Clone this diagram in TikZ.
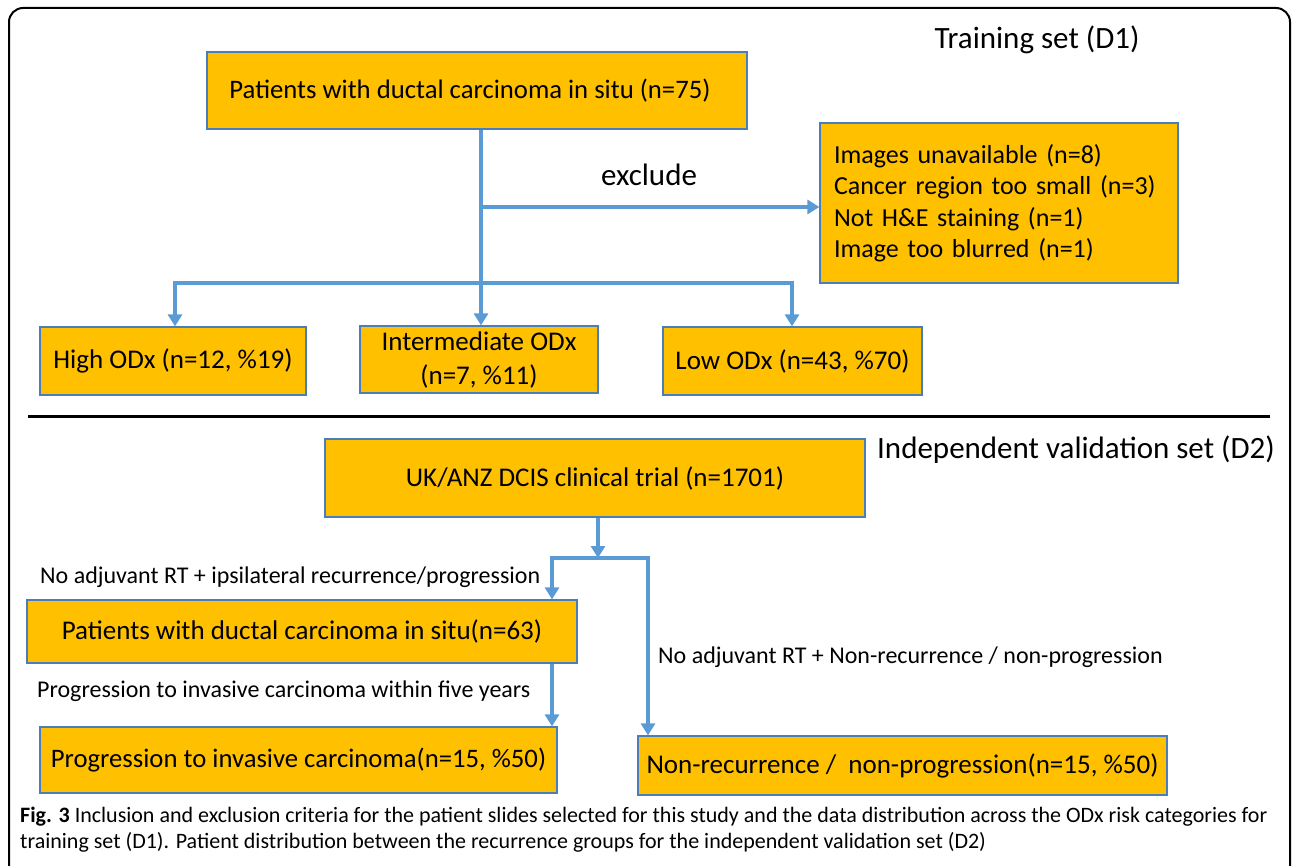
\documentclass[tikz,border=0pt]{standalone}
\usepackage{fontspec}
\setmainfont{Carlito}
\usetikzlibrary{arrows.meta}
\definecolor{boxfill}{HTML}{FFC000}
\definecolor{boxline}{HTML}{4A7EBB}
\definecolor{flow}{HTML}{5B9BD5}
\tikzset{>={Triangle[width=14pt,length=12pt]}}
\tikzset{
  box/.style={draw=boxline, line width=1.2pt, fill=boxfill, inner sep=0pt,
    align=center, font=\fontsize{27}{34}\selectfont},
  flowline/.style={flow, line width=4pt},
  lbl/.style={inner sep=0pt, font=\fontsize{24}{28}\selectfont},
  head/.style={inner sep=0pt, anchor=base, font=\fontsize{31}{36}\selectfont},
}

\begin{document}
\begin{tikzpicture}[x=1pt,y=-1pt]
\useasboundingbox (0,0) rectangle (1292,866);
\clip (0,0) rectangle (1292,866);
\draw[line width=2pt, rounded corners=14pt] (9,900) -- (9,8) -- (1290,8) -- (1290,900);

% training set (D1)
\node[head] (d1) at (1037,49) {Training set (D1)};
\node[box, minimum width=540, minimum height=77, font=\fontsize{26.7}{32}\selectfont] (dcisA) at (477,90.5)
  {Patients with ductal carcinoma in situ (n=75)\hspace{14pt}};
\node[box, minimum width=358, minimum height=160, align=left, text width=330,
  font=\fontsize{26}{31.5}\selectfont] (excl) at (999,203)
  {Images unavailable (n=8)\\Cancer region too small (n=3)\\Not H\&E staining (n=1)\\Image too blurred (n=1)};
\node[box, minimum width=266, minimum height=68] (high) at (173,361) {High ODx (n=12, \%19)};
\node[box, minimum width=238, minimum height=67] (mid) at (479,359.5) {Intermediate ODx\\(n=7, \%11)};
\node[box, minimum width=259, minimum height=68] (low) at (792.5,361) {Low ODx (n=43, \%70)};
\node[inner sep=0pt, anchor=base, font=\fontsize{31}{36}\selectfont] (exlbl) at (649,186) {exclude};

\coordinate (j1) at (481,207);
\coordinate (jl) at (175,283);
\coordinate (jr) at (792,283);
\draw[flowline,->] (dcisA.south -| j1) -- (mid.north -| j1);
\draw[flowline,->] (j1) -- (excl.west |- j1);
\draw[flowline,<->] (jl |- high.north) -- (jl) -- (jr) -- (jr |- low.north);

\draw[line width=3pt] (28,416) -- (1270,416);

% validation set (D2)
\node[head] (d2) at (1076,458) {Independent validation set (D2)};
\node[box, minimum width=540, minimum height=78] (uk) at (595,478) {UK/ANZ DCIS clinical trial (n=1701)};
\node[box, minimum width=550, minimum height=63] (dcisB) at (302,631.5) {Patients with ductal carcinoma in situ(n=63)};
\node[box, minimum width=517, minimum height=66, font=\fontsize{26.7}{32}\selectfont] (prog) at (298.5,760) {Progression to invasive carcinoma(n=15, \%50)};
\node[box, minimum width=529, minimum height=59] (nonrec) at (902.5,765.5) {Non-recurrence /\ \ non-progression(n=15, \%50)};

\coordinate (k) at (598,558);
\coordinate (kl) at (552,558);
\coordinate (kr) at (648,558);
\draw[flowline,->] (uk.south -| k) -- (k);
\draw[flowline,<->] (dcisB.north -| kl) -- (kl) -- (kr) -- (kr |- nonrec.north);
\draw[flowline,->] (dcisB.south -| kl) -- (prog.north -| kl);

\node[lbl, anchor=west] (l1) at (40,577) {No adjuvant RT + ipsilateral recurrence/progression};
\node[lbl, anchor=west] (l2) at (37,691) {Progression to invasive carcinoma within five years};
\node[lbl, anchor=west] (l3) at (658,657) {No adjuvant RT + Non-recurrence / non-progression};

% caption
\node[anchor=base west, inner sep=0pt, align=left, font=\fontsize{22}{26}\selectfont] (cap) at (20,848)
  {\textbf{Fig. 3} Inclusion and exclusion criteria for the patient slides selected for this study and the data distribution across the ODx risk categories for\\
   training set (D1). Patient distribution between the recurrence groups for the independent validation set (D2)};
\end{tikzpicture}
\end{document}
